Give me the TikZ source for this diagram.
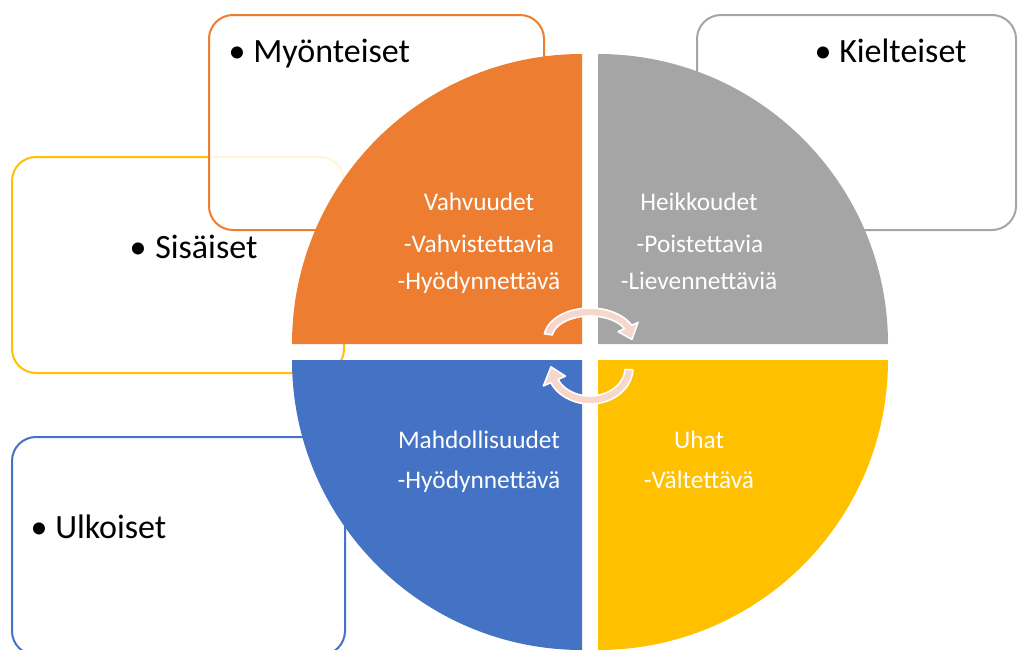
\documentclass[tikz,border=0pt]{standalone}
\usepackage{fontspec}
\setmainfont{Carlito}
\usetikzlibrary{calc}
\definecolor{cOr}{HTML}{ED7D31}
\definecolor{cGr}{HTML}{A5A5A5}
\definecolor{cBl}{HTML}{4472C4}
\definecolor{cYe}{HTML}{FFC000}
\definecolor{cArrow}{HTML}{F7D6CB}
\begin{document}
\begin{tikzpicture}[x=0.75pt,y=0.75pt,
  box/.style={line width=1.5pt, rounded corners=18pt},
  qtext/.style={text=white, font=\fontsize{19}{22}\selectfont, anchor=base, inner sep=0pt},
  btext/.style={font=\fontsize{25.5}{30}\selectfont, anchor=base west, inner sep=0pt},
  bul/.style={font=\fontsize{25.5}{30}\selectfont, anchor=base, inner sep=0pt},
  cyc/.style={fill=cArrow, draw=white, line width=1.2pt, line join=round}]
\useasboundingbox (0,0) rectangle (1018,-650);
% outline boxes
\draw[box, draw=cYe] (12,-157) rectangle (344,-373);
\draw[box, draw=cOr, fill=white, fill opacity=0.85] (209,-15) rectangle (544,-230);
\draw[box, draw=cGr, fill=white, fill opacity=0.85] (697,-15) rectangle (1016,-230);
\draw[box, draw=cBl] (12,-437) rectangle (345,-655);
% quadrants
\fill[cOr] (582,-344) -- (292,-344) arc[start angle=180,end angle=90,radius=290] -- cycle;
\fill[cGr] (598,-344) -- (598,-54) arc[start angle=90,end angle=0,radius=290] -- cycle;
\fill[cBl] (582,-360) -- (582,-650) arc[start angle=270,end angle=180,radius=290] -- cycle;
\fill[cYe] (598,-360) -- (888,-360) arc[start angle=0,end angle=-90,radius=290] -- cycle;
% cycle arrows
\coordinate (U) at (590,-338);
\coordinate (L) at (590,-368);
\path[cyc] ($(U)+(172:46 and 30)$) arc[start angle=172,end angle=25,x radius=46,y radius=30]
  -- ($(U)+(25:53 and 37)$) -- ($(U)+(-3:42 and 26)$) -- ($(U)+(25:31 and 15)$)
  -- ($(U)+(25:38 and 22)$) arc[start angle=25,end angle=172,x radius=38,y radius=22] -- cycle;
\path[cyc] ($(L)+(-3:43 and 36)$) arc[start angle=-3,end angle=-156,x radius=43,y radius=36]
  -- ($(L)+(-156:51 and 44)$) -- ($(L)+(-182:39 and 32)$) -- ($(L)+(-156:27 and 20)$)
  -- ($(L)+(-156:35 and 28)$) arc[start angle=-156,end angle=-3,x radius=35,y radius=28] -- cycle;
% quadrant texts
\node[qtext] (s1) at (479,-210) {Vahvuudet};
\node[qtext] (s2) at (479,-252) {-Vahvistettavia};
\node[qtext] (s3) at (479,-289) {-Hyödynnettävä};
\node[qtext] (w1) at (699,-210) {Heikkoudet};
\node[qtext] (w2) at (700,-252) {-Poistettavia};
\node[qtext] (w3) at (699,-289) {-Lievennettäviä};
\node[qtext] (o1) at (479,-448) {Mahdollisuudet};
\node[qtext] (o2) at (479,-488) {-Hyödynnettävä};
\node[qtext] (t1) at (699,-448) {Uhat};
\node[qtext] (t2) at (699,-488) {-Vältettävä};
% bullet texts
\node[bul] (bm) at (237,-62) {•};
\node[btext] (tm) at (253,-62) {Myönteiset};
\node[bul] (bk) at (823,-62) {•};
\node[btext] (tk) at (839,-62) {Kielteiset};
\node[bul] (bs) at (138,-258) {•};
\node[btext] (ts) at (155,-258) {Sisäiset};
\node[bul] (bu) at (39,-538) {•};
\node[btext] (tu) at (55,-538) {Ulkoiset};
\end{tikzpicture}
\end{document}
